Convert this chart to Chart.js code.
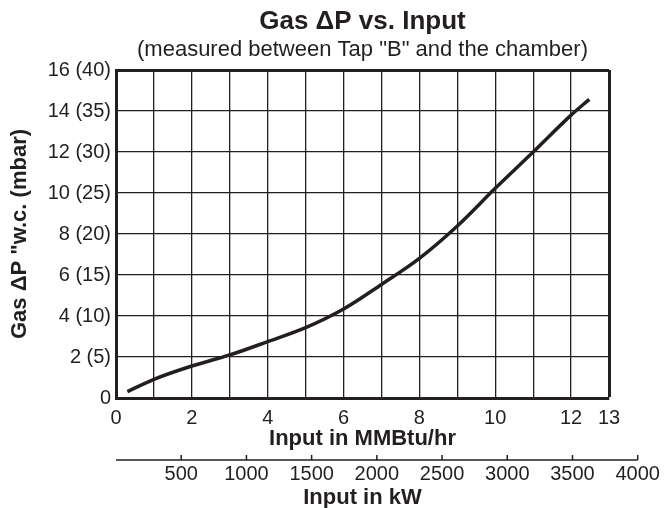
<!DOCTYPE html>
<html>
<head>
<meta charset="utf-8">
<script src="https://cdn.jsdelivr.net/npm/chart.js@4.4.1/dist/chart.umd.min.js"></script>
<style>
  html, body { margin: 0; padding: 0; background: #fff; }
  #wrap { width: 664px; height: 508px; }
</style>
</head>
<body>
<div id="wrap"><canvas id="gasChart"></canvas></div>
<script>
// curve: input (MMBtu/hr) vs gas dP ("w.c.)
var inputMMBtu = [0.3, 1, 2, 3, 4, 5, 6, 7, 8, 9, 10, 11, 12, 12.48];
var gasDP = [0.31, 0.91, 1.56, 2.10, 2.75, 3.43, 4.34, 5.54, 6.81, 8.39, 10.23, 12.0, 13.8, 14.57];

var yTickLabels = ['0', '2 (5)', '4 (10)', '6 (15)', '8 (20)', '10 (25)', '12 (30)', '14 (35)', '16 (40)'];
var xTickLabels = ['0', '', '2', '', '4', '', '6', '', '8', '', '10', '', '12', '13'];

// second axis underneath, in kW
var kwTicks = [500, 1000, 1500, 2000, 2500, 3000, 3500, 4000];
var kwMax = 3780; // kW at the 13 MMBtu/hr edge, as drawn

var ink = '#231f20';
var fontFamily = "'Liberation Sans', Arial, Helvetica, sans-serif";

var points = inputMMBtu.map(function (x, i) { return { x: x, y: gasDP[i] }; });

// draws the kW scale below the MMBtu one (it runs past the grid to 4000)
var kwAxisPlugin = {
  id: 'kwAxis',
  afterDraw: function (chart) {
    var ctx = chart.ctx;
    var kw = chart.scales.kw;
    var y = chart.chartArea.bottom + 62;
    ctx.save();
    ctx.strokeStyle = ink;
    ctx.lineWidth = 1.5;
    ctx.beginPath();
    ctx.moveTo(kw.getPixelForValue(0), y);
    ctx.lineTo(kw.getPixelForValue(kwTicks[kwTicks.length - 1]), y);
    ctx.stroke();

    ctx.fillStyle = ink;
    ctx.textAlign = 'center';
    ctx.textBaseline = 'middle';
    ctx.font = '20px ' + fontFamily;
    kwTicks.forEach(function (v) {
      var px = kw.getPixelForValue(v);
      ctx.beginPath();
      ctx.moveTo(px, y);
      ctx.lineTo(px, y - 5);
      ctx.stroke();
      ctx.fillText(String(v), px, y + 14);
    });

    ctx.font = 'bold 22px ' + fontFamily;
    var mid = (chart.chartArea.left + chart.chartArea.right) / 2;
    ctx.fillText('Input in kW', mid, y + 38);
    ctx.restore();
  }
};

var ctx = document.getElementById('gasChart').getContext('2d');
var chart = new Chart(ctx, {
  type: 'line',
  data: {
    datasets: [{
      label: 'Gas dP',
      data: points,
      borderColor: ink,
      borderWidth: 3.5,
      pointRadius: 0,
      fill: false,
      cubicInterpolationMode: 'monotone'
    }]
  },
  options: {
    responsive: true,
    maintainAspectRatio: false,
    animation: false,
    layout: { padding: { left: 0, right: 55, top: 0, bottom: 0 } },
    plugins: {
      legend: { display: false },
      tooltip: { enabled: false },
      title: {
        display: true,
        fullSize: false,
        text: 'Gas \u0394P vs. Input',
        color: ink,
        font: { family: fontFamily, size: 26, weight: 'bold' },
        padding: { top: 6, bottom: 0 }
      },
      subtitle: {
        display: true,
        fullSize: false,
        text: '(measured between Tap "B" and the chamber)',
        color: ink,
        font: { family: fontFamily, size: 22 },
        padding: { top: 0, bottom: 6.4 }
      }
    },
    scales: {
      x: {
        type: 'linear',
        position: 'bottom',
        min: 0,
        max: 13,
        ticks: {
          stepSize: 1,
          autoSkip: false,
          maxRotation: 0,
          padding: 8,
          color: ink,
          font: { family: fontFamily, size: 20 },
          callback: function (v) { return xTickLabels[v]; }
        },
        grid: {
          color: ink,
          drawTicks: false,
          lineWidth: function (c) { return c.tick && c.tick.value === 13 ? 3 : 1.3; }
        },
        border: { color: ink, width: 3 },
        title: {
          display: true,
          text: 'Input in MMBtu/hr',
          color: ink,
          font: { family: fontFamily, size: 22, weight: 'bold' },
          padding: { top: 0, bottom: 56 }
        },
        afterFit: function (s) { s.height = 110; }
      },
      kw: {
        type: 'linear',
        axis: 'x',
        position: 'bottom',
        display: false,
        min: 0,
        max: kwMax
      },
      y: {
        min: 0,
        max: 16,
        ticks: {
          stepSize: 2,
          padding: 5,
          color: ink,
          font: { family: fontFamily, size: 20 },
          callback: function (v, i) { return yTickLabels[i]; }
        },
        grid: {
          color: ink,
          drawTicks: false,
          lineWidth: function (c) { return c.tick && c.tick.value === 16 ? 3 : 1.3; }
        },
        border: { color: ink, width: 3 },
        title: {
          display: true,
          text: 'Gas \u0394P "w.c. (mbar)',
          color: ink,
          font: { family: fontFamily, size: 22, weight: 'bold' },
          padding: { top: 7, bottom: 0 }
        },
        afterFit: function (s) { s.width = 116; }
      }
    }
  },
  plugins: [kwAxisPlugin]
});
</script>
</body>
</html>
